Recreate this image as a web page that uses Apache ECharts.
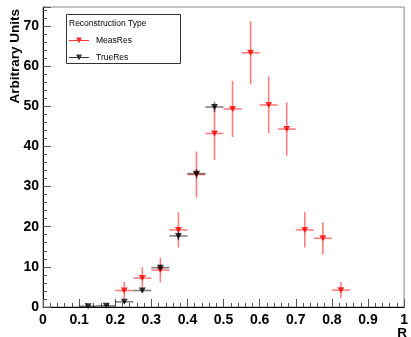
<!DOCTYPE html>
<html>
<head>
<meta charset="utf-8">
<script src="https://cdn.jsdelivr.net/npm/echarts@6/dist/echarts.min.js"></script>
<style>
html,body{margin:0;padding:0;background:#fff;}
#chart{width:411px;height:337px;}
</style>
</head>
<body>
<div id="chart"></div>
<script>
// ---- data ----
var binHalfWidth = 0.025;
var measX   = [0.225, 0.275, 0.325, 0.375, 0.425, 0.475, 0.525, 0.575, 0.625, 0.675, 0.725, 0.775, 0.825];
var measVal = [4.1, 7.2, 9.2, 19.2, 33.0, 43.2, 49.3, 63.3, 50.3, 44.3, 19.2, 17.1, 4.2];
var measErr = [2.1, 2.7, 3.1, 4.4, 5.7, 6.6, 7.0, 7.9, 7.1, 6.6, 4.4, 4.0, 2.0];
var trueX   = [0.125, 0.175, 0.225, 0.275, 0.325, 0.375, 0.425, 0.475];
var trueVal = [0.2, 0.3, 1.3, 4.1, 9.8, 17.7, 33.2, 49.8];
var trueErr = [0.1, 0.1, 0.3, 0.5, 0.8, 1.0, 1.2, 1.3];
var seriesNames = ['MeasRes', 'TrueRes'];
var legendTitle = 'Reconstruction Type';
var xTitle = 'R';
var yTitle = 'Arbitrary Units';

function pts(xs, ys, es) {
  return xs.map(function (x, i) { return [x, ys[i], es[i]]; });
}
var measData = pts(measX, measVal, measErr);
var trueData = pts(trueX, trueVal, trueErr);

function errRender(color) {
  return function (params, api) {
    var x = api.value(0), y = api.value(1), e = api.value(2);
    var l = api.coord([x - binHalfWidth, y]);
    var r = api.coord([x + binHalfWidth, y]);
    var t = api.coord([x, y + e]);
    var b = api.coord([x, y - e]);
    var st = {stroke: color, lineWidth: 1.6};
    return {
      type: 'group',
      children: [
        {type: 'line', shape: {x1: l[0], y1: l[1], x2: r[0], y2: r[1]}, style: st},
        {type: 'line', shape: {x1: t[0], y1: t[1], x2: b[0], y2: b[1]}, style: st}
      ]
    };
  };
}

var font = '"Liberation Sans", Arial, Helvetica, sans-serif';
var chart = echarts.init(document.getElementById('chart'), null, {renderer: 'canvas'});
var legendIcon = 'path://M0,4.6h20v0.8h-20z M7,2h6l-3,6z';

chart.setOption({
  animation: false,
  backgroundColor: '#fff',
  grid: {left: 43, right: 3, top: 7, bottom: 30, show: true, borderColor: '#888', borderWidth: 1, backgroundColor: 'transparent'},
  xAxis: {
    type: 'value', min: 0, max: 1, interval: 0.1,
    axisLine: {show: true, onZero: false, lineStyle: {color: '#000', width: 1}},
    axisTick: {show: true, inside: true, length: 8, lineStyle: {color: '#555'}},
    minorTick: {show: true, splitNumber: 5, length: 4, lineStyle: {color: '#555'}},
    splitLine: {show: false},
    axisLabel: {color: '#000', fontFamily: font, fontWeight: 'bold', fontSize: 14, margin: 6}
  },
  yAxis: {
    type: 'value', min: 0, max: 74.7, interval: 10,
    axisLine: {show: true, onZero: false, lineStyle: {color: '#000', width: 1}},
    axisTick: {show: true, inside: true, length: 8, lineStyle: {color: '#555'}},
    minorTick: {show: true, splitNumber: 5, length: 4, lineStyle: {color: '#555'}},
    splitLine: {show: false},
    axisLabel: {color: '#000', fontFamily: font, fontWeight: 'bold', fontSize: 14, margin: 4, showMaxLabel: false}
  },
  legend: {
    orient: 'vertical', left: 69, top: 36, itemGap: 8, itemWidth: 20, itemHeight: 8,
    padding: 0, z: 20,
    textStyle: {fontFamily: font, fontSize: 8.5, color: '#000', padding: [0, 0, 0, 2]},
    data: [
      {name: seriesNames[0], icon: legendIcon, itemStyle: {color: '#ff0000'}},
      {name: seriesNames[1], icon: legendIcon, itemStyle: {color: '#000'}}
    ]
  },
  graphic: [
    {type: 'rect', left: 66, top: 14, shape: {width: 114, height: 49}, style: {fill: '#fff', stroke: '#333', lineWidth: 1}, z: 0},
    {type: 'text', left: 69, top: 19, style: {text: legendTitle, font: '8.5px ' + font, fill: '#000'}, z: 1},
    {type: 'text', x: 15, y: 9, rotation: Math.PI / 2, style: {text: yTitle, align: 'right', verticalAlign: 'middle', font: 'bold 13.5px ' + font, fill: '#000'}},
    {type: 'text', right: 4, top: 326, style: {text: xTitle, font: 'bold 13.5px ' + font, fill: '#000'}}
  ],
  series: [
    {name: seriesNames[0] + '_err', type: 'custom', renderItem: errRender('rgba(255,0,0,0.5)'), data: measData, clip: true, z: 2, silent: true},
    {name: seriesNames[0], type: 'scatter', data: measData, symbol: 'triangle', symbolRotate: 180, symbolSize: [7, 6], itemStyle: {color: '#ff0000'}, z: 3},
    {name: seriesNames[1] + '_err', type: 'custom', renderItem: errRender('rgba(0,0,0,0.5)'), data: trueData, clip: true, z: 4, silent: true},
    {name: seriesNames[1], type: 'scatter', data: trueData, symbol: 'triangle', symbolRotate: 180, symbolSize: [7, 6], itemStyle: {color: '#000'}, z: 5}
  ]
});
</script>
</body>
</html>
